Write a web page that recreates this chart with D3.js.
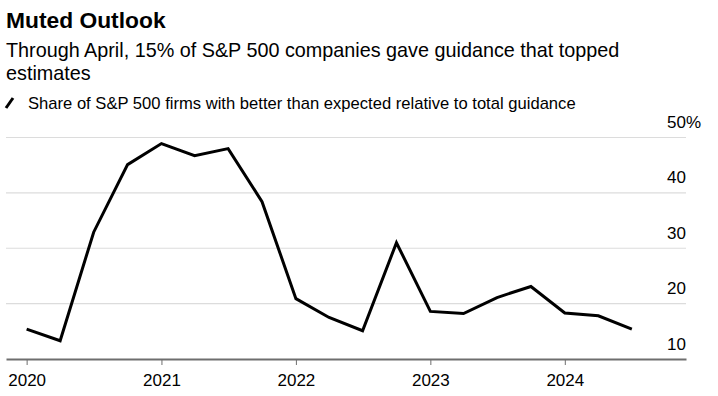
<!DOCTYPE html>
<html>
<head>
<meta charset="utf-8">
<script src="https://cdn.jsdelivr.net/npm/d3@7"></script>
<style>
  body { margin: 0; background: #fff; }
  svg text { font-family: "Liberation Sans", Arial, sans-serif; fill: #000; }
</style>
</head>
<body>
<div id="chart"></div>
<script>
// quarterly share of S&P 500 firms with better-than-expected guidance (%)
var quarters = ["2020-01", "2020-04", "2020-07", "2020-10",
                "2021-01", "2021-04", "2021-07", "2021-10",
                "2022-01", "2022-04", "2022-07", "2022-10",
                "2023-01", "2023-04", "2023-07", "2023-10",
                "2024-01", "2024-04", "2024-07"];
var shares = [15.4, 13.3, 32.9, 45.1,
              48.9, 46.7, 48.0, 38.4,
              20.9, 17.5, 15.1, 31.0,
              18.6, 18.2, 21.1, 23.1,
              18.3, 17.8, 15.4];
var yTicks = [10, 20, 30, 40, 50];
var xTickYears = [2020, 2021, 2022, 2023, 2024];

var W = 718, H = 396;
var plotLeft = 6, plotRight = 686, plotTop = 137.5, plotBottom = 359;

var parse = d3.timeParse("%Y-%m");
var data = quarters.map(function(q, i) { return {date: parse(q), value: shares[i]}; });

var svg = d3.select("#chart").append("svg")
    .attr("width", W)
    .attr("height", H);

// ##### TITLES #####
svg.append("text").attr("x", 6).attr("y", 28)
    .style("font-size", "22.8px").style("font-weight", "bold")
    .text("Muted Outlook");

svg.append("text").attr("x", 6).attr("y", 57)
    .style("font-size", "19.8px")
    .text("Through April, 15% of S&P 500 companies gave guidance that topped");
svg.append("text").attr("x", 6).attr("y", 80)
    .style("font-size", "19.8px")
    .text("estimates");

// legend
svg.append("line")
    .attr("x1", 6).attr("y1", 108).attr("x2", 13).attr("y2", 98)
    .attr("stroke", "#000").attr("stroke-width", 3);
svg.append("text").attr("x", 28).attr("y", 109)
    .style("font-size", "16.6px")
    .text("Share of S&P 500 firms with better than expected relative to total guidance");

// ##### SCALES #####
var x = d3.scaleTime()
    .domain([new Date(2019, 10, 6), new Date(2024, 10, 25)])
    .range([plotLeft, plotRight]);
var y = d3.scaleLinear().domain([10, 50]).range([plotBottom, plotTop]);

// gridlines
svg.append("g").selectAll("line")
    .data(yTicks.slice(1))
    .join("line")
    .attr("x1", plotLeft).attr("x2", plotRight)
    .attr("y1", function(d) { return y(d); })
    .attr("y2", function(d) { return y(d); })
    .attr("stroke", "#dcdcdc").attr("stroke-width", 1.2);

// y labels, sitting above gridlines on the right
svg.append("g").selectAll("text")
    .data(yTicks)
    .join("text")
    .attr("x", plotRight)
    .attr("y", function(d) { return y(d) - 9.5; })
    .attr("text-anchor", "end")
    .style("font-size", "17px")
    .text(function(d) { return d; });
svg.append("text")
    .attr("x", plotRight).attr("y", y(50) - 9.5)
    .style("font-size", "17px")
    .text("%");

// x axis
var xAxis = d3.axisBottom(x)
    .tickValues(xTickYears.map(function(yr) { return new Date(yr, 0, 1); }))
    .tickFormat(d3.timeFormat("%Y"))
    .tickSize(6)
    .tickSizeOuter(0);

var gx = svg.append("g")
    .attr("transform", "translate(0," + plotBottom + ")")
    .call(xAxis);
gx.select(".domain").attr("stroke", "#6e6e6e").attr("stroke-width", 2);
gx.selectAll(".tick line").attr("stroke", "#6e6e6e").attr("stroke-width", 1);
gx.selectAll(".tick text")
    .attr("y", 27)
    .attr("dy", 0)
    .style("font-size", "17px")
    .style("font-family", "'Liberation Sans', Arial, sans-serif")
    .attr("fill", "#000");

// ##### LINE #####
var line = d3.line()
    .x(function(d) { return x(d.date); })
    .y(function(d) { return y(d.value); });

svg.append("path")
    .datum(data)
    .attr("d", line)
    .attr("fill", "none")
    .attr("stroke", "#000")
    .attr("stroke-width", 3)
    .attr("stroke-linejoin", "miter");
</script>
</body>
</html>
